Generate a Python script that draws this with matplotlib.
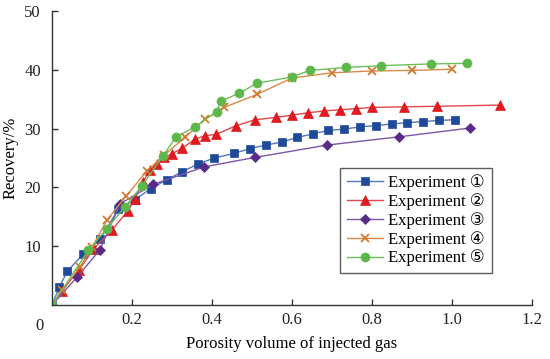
import matplotlib.pyplot as plt

# data
exp1_x = [0, 0.018, 0.038, 0.077, 0.12, 0.166, 0.207, 0.247, 0.287, 0.326, 0.366, 0.406,
          0.456, 0.495, 0.534, 0.574, 0.613, 0.652, 0.691, 0.73, 0.77, 0.81, 0.849,
          0.888, 0.928, 0.968, 1.008]
exp1_y = [0, 3.0, 5.7, 8.6, 11.2, 16.3, 17.9, 19.8, 21.3, 22.7, 24.0, 25.0,
          25.8, 26.6, 27.2, 27.7, 28.5, 29.1, 29.7, 29.9, 30.3, 30.5, 30.8,
          31.0, 31.2, 31.4, 31.5]

exp2_x = [0, 0.024, 0.0675, 0.105, 0.149, 0.19, 0.2075, 0.228, 0.245, 0.262, 0.28, 0.30,
          0.326, 0.3575, 0.3825, 0.41, 0.46, 0.5075, 0.56, 0.601, 0.641, 0.68, 0.72,
          0.76, 0.801, 0.881, 0.962, 1.12]
exp2_y = [0, 2.3, 6.0, 9.6, 12.7, 16.0, 18.1, 21.0, 23.0, 24.0, 25.1, 25.7,
          26.7, 28.2, 28.8, 29.0, 30.5, 31.5, 31.9, 32.3, 32.7, 33.0, 33.2,
          33.4, 33.6, 33.7, 33.8, 34.0]

exp3_x = [0, 0.062, 0.12, 0.17, 0.252, 0.381, 0.5075, 0.688, 0.8675, 1.045]
exp3_y = [0, 4.7, 9.4, 17.2, 20.5, 23.5, 25.1, 27.2, 28.6, 30.1]

exp4_x = [0, 0.025, 0.07, 0.1, 0.137, 0.185, 0.237, 0.28, 0.3325, 0.3825, 0.43,
          0.512, 0.60, 0.70, 0.80, 0.90, 1.0]
exp4_y = [0, 2.5, 6.5, 9.8, 14.4, 18.5, 22.8, 25.5, 28.5, 31.6, 33.6,
          35.8, 38.6, 39.5, 39.8, 39.9, 40.1]

exp5_x = [0, 0.091, 0.137, 0.1825, 0.224, 0.278, 0.309, 0.3575, 0.412, 0.4225, 0.4675,
          0.512, 0.60, 0.645, 0.735, 0.8225, 0.9475, 1.037]
exp5_y = [0, 9.3, 13.0, 16.7, 20.2, 25.4, 28.5, 30.3, 32.9, 34.7, 36.0,
          37.7, 38.8, 39.9, 40.4, 40.7, 41.0, 41.1]

labels = ["Experiment \u2460", "Experiment \u2461", "Experiment \u2462",
          "Experiment \u2463", "Experiment \u2464"]
x_ticks = [0.2, 0.4, 0.6, 0.8, 1.0, 1.2]
y_ticks = [10, 20, 30, 40, 50]

plt.rcParams['font.family'] = ['Liberation Serif', 'DejaVu Sans']

fig = plt.figure(figsize=(5.5, 3.59), dpi=100)
ax = fig.add_axes([52 / 550, 1 - 305 / 359, 480 / 550, 294 / 359])

# (x, y, line colour, marker colour, marker, size)
series = [
    (exp1_x, exp1_y, '#5577bb', '#1f4a9a', 's', 6),
    (exp2_x, exp2_y, '#e0474c', '#e01a20', '^', 7),
    (exp3_x, exp3_y, '#7c55a8', '#5a2a88', 'D', 5.5),
    (exp4_x, exp4_y, '#d98a4a', '#d27a2e', 'x', 6),
    (exp5_x, exp5_y, '#6cbf5c', '#5cb84a', 'o', 6.5),
]
for (xs, ys, lc, mc, m, ms), lab in zip(series, labels):
    ax.plot(xs, ys, color=lc, lw=1.0, marker=m, ms=ms, mfc=mc, mec=mc,
            mew=1.3 if m == 'x' else 0.5, label=lab)

ax.set_xlim(0, 1.2)
ax.set_ylim(0, 50)
ax.set_xticks(x_ticks)
ax.set_xticklabels([f"{t:.1f}" for t in x_ticks])
ax.set_yticks(y_ticks)
ax.spines['top'].set_visible(False)
ax.spines['right'].set_visible(False)
for s in ['left', 'bottom']:
    ax.spines[s].set_color('#333333')
    ax.spines[s].set_linewidth(1.0)
ax.tick_params(direction='in', length=4, width=1, colors='#333333', labelsize=12,
               labelcolor='#222222')
ax.tick_params(axis='x', pad=5)
ax.tick_params(axis='y', pad=8)
ax.text(-0.025, -0.045, "0", transform=ax.transAxes, ha='center', va='top',
        fontsize=12, color='#222222')

ax.set_xlabel("Porosity volume of injected gas", fontsize=12, labelpad=6)
ax.set_ylabel("Recovery/%", fontsize=12, labelpad=4)

leg = ax.legend(loc='lower left', bbox_to_anchor=(288 / 480, 32 / 294), fontsize=12,
                frameon=True, fancybox=False, edgecolor='#333333', handlelength=2.2,
                handletextpad=0.3, labelspacing=0.12, borderpad=0.4, borderaxespad=0)
leg.get_frame().set_linewidth(1.0)

fig.savefig("out.png", dpi=100)
